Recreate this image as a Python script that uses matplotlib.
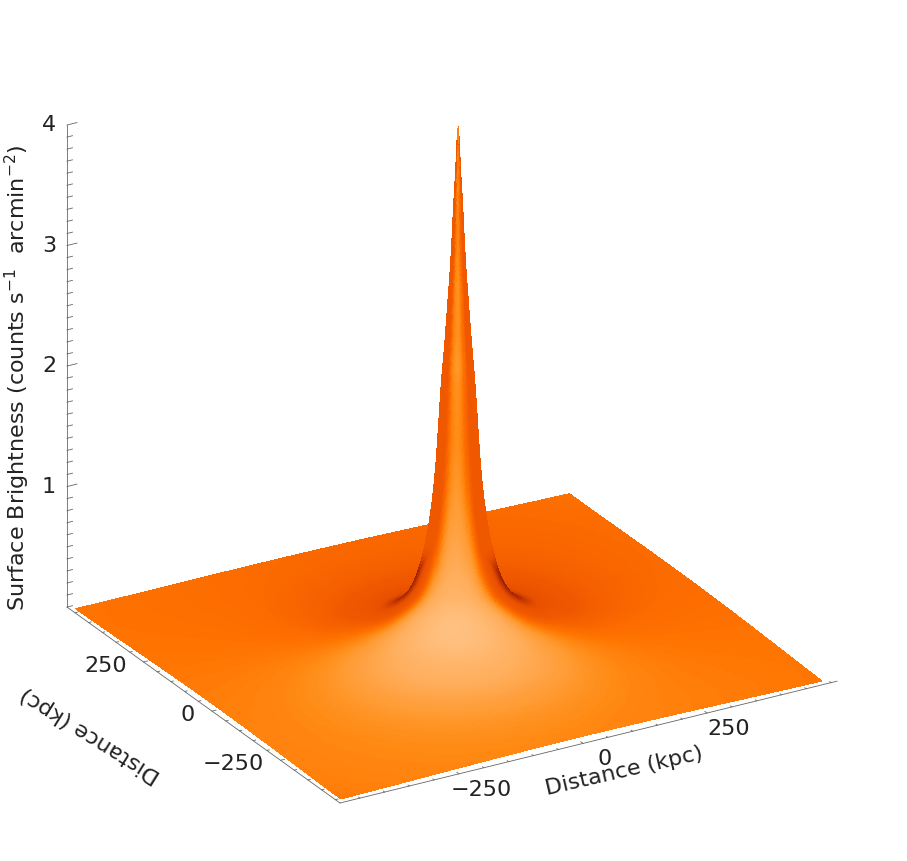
import numpy as np
import matplotlib
matplotlib.use('Agg')
from matplotlib import pyplot as plt
from matplotlib.colors import LinearSegmentedColormap
from mpl_toolkits.mplot3d import proj3d

# Radial profile of the peak
radius_kpc = [0, 2, 8, 19, 31, 41, 55, 86, 128, 200, 300, 400, 500, 600, 700]
brightness = [4.36, 4.26, 3.72, 2.86, 2.2, 1.45, 0.97, 0.5, 0.31, 0.18, 0.1, 0.065, 0.045, 0.03, 0.02]

# Axis ranges and ticks
x_range = [-490, 512]
y_range = [-467, 529]
z_range = [0, 4]
surf_x = [-486, 484]
surf_y = [-463, 505]
major_ticks = [-250, 0, 250]
minor_ticks = [-450, -400, -350, -300, -200, -150, -100, -50, 50, 100, 150, 200, 300, 350, 400, 450, 500]
z_major = [1, 2, 3, 4]
z_minor = [0.1, 0.2, 0.3, 0.4, 0.5, 0.6, 0.7, 0.8, 0.9, 1.1, 1.2, 1.3, 1.4, 1.5, 1.6, 1.7, 1.8, 1.9,
           2.1, 2.2, 2.3, 2.4, 2.5, 2.6, 2.7, 2.8, 2.9, 3.1, 3.2, 3.3, 3.4, 3.5, 3.6, 3.7, 3.8, 3.9]

# Shade colours against the light level of a facet
shade_levels = [0.0, 0.3, 0.5, 0.62, 0.67, 0.707, 0.74, 0.77, 0.8, 0.85, 1.0]
shade_colors = ['#8c1900', '#a52300', '#e85000', '#f05800', '#f86400', '#ff7300', '#ff8a14', '#ff9a30',
                '#ffa244', '#ffae5c', '#ffc080']

W, H = 907, 861
ELEV, AZIM = 24.8, -120.3
BOX = (575.6, 541, 531)

plt.rcParams['font.family'] = ['DejaVu Sans']
plt.rcParams['mathtext.default'] = 'regular'

fig = plt.figure(figsize=(W / 100, H / 100), dpi=100)
ax = fig.add_axes([0, 0, 1, 1], projection='3d', proj_type='ortho')
ax.view_init(elev=ELEV, azim=AZIM)
ax.set_box_aspect(BOX)
ax.set_xlim(x_range)
ax.set_ylim(y_range)
ax.set_zlim(z_range)
ax.set_axis_off()
ax.computed_zorder = False


# Pixel position of a data point
def pixel_of(x, y, z):
    px, py, _ = proj3d.proj_transform(x, y, z, ax.get_proj())
    return ax.transData.transform((px, py))


# Size and place the axes so the front axis runs from (340,803) to (837,681)
fig.canvas.draw()
left = pixel_of(x_range[0], y_range[0], 0)
right = pixel_of(x_range[1], y_range[0], 0)
side = H * 497 / (right[0] - left[0])
ax.set_position([0, 0, side / W, side / H])
fig.canvas.draw()
left = pixel_of(x_range[0], y_range[0], 0)
ax.set_position([(340 - left[0]) / W, (H - 803 - left[1]) / H, side / W, side / H])

# Fine radial table from the profile, smoothed in log space
u_points = np.log(np.array(radius_kpc) + 5.0)
u_fine = np.linspace(u_points[0], u_points[-1], 800)
log_fine = np.interp(u_fine, u_points, np.log(brightness))
kernel = np.ones(41) / 41
log_smooth = np.convolve(np.pad(log_fine, 20, mode='edge'), kernel, mode='valid')
r_fine = np.exp(u_fine) - 5.0
z_fine = np.exp(log_smooth)
z_fine = z_fine * brightness[0] / z_fine[0]
slope_fine = np.gradient(z_fine, r_fine)

# Grid packed around the peak
t = np.linspace(-1, 1, 281)
base = np.sinh(3 * t) / np.sinh(3)
xs = np.where(base < 0, -base * surf_x[0], base * surf_x[1])
ys = np.where(base < 0, -base * surf_y[0], base * surf_y[1])
X, Y = np.meshgrid(xs, ys)
R = np.hypot(X, Y)
Z = np.interp(R, r_fine, z_fine)

# Light level from the normals, in box units
slope = np.interp(R, r_fine, slope_fine)
safe_r = np.where(R > 0, R, 1)
kx = (BOX[2] / (z_range[1] - z_range[0])) / (BOX[0] / (x_range[1] - x_range[0]))
ky = (BOX[2] / (z_range[1] - z_range[0])) / (BOX[1] / (y_range[1] - y_range[0]))
nx = -slope * X / safe_r * kx
ny = -slope * Y / safe_r * ky
norm = np.sqrt(nx ** 2 + ny ** 2 + 1)
light_el = np.radians(45)
light_az = np.radians(AZIM)
light = (nx * np.cos(light_el) * np.cos(light_az) + ny * np.cos(light_el) * np.sin(light_az)
         + np.sin(light_el)) / norm
# The steep walls of the peak stay orange, only the foot goes dark
steep = np.hypot(nx, ny)
light = np.maximum(light, 0.62 * np.clip((steep - 1.5) / 4, 0, 1))
cmap = LinearSegmentedColormap.from_list('lamp', list(zip(shade_levels, shade_colors)))

# The far corner of the reference sits off a true parallelogram
u = (X - surf_x[0]) / (surf_x[1] - surf_x[0])
v = (Y - surf_y[0]) / (surf_y[1] - surf_y[0])
ax.plot_surface(X + 13 * u * v, Y - 23 * u * v, Z, facecolors=cmap(np.clip(light, 0, 1)),
                rstride=1, cstride=1, shade=False, linewidth=0, antialiased=False, zorder=1)

# Axis lines
axis_kw = dict(color='#666666', lw=0.6, zorder=3)
ax.plot(x_range, [y_range[0], y_range[0]], [0, 0], **axis_kw)
ax.plot([x_range[0], x_range[0]], y_range, [0, 0], **axis_kw)
ax.plot([x_range[0], x_range[0]], [y_range[1], y_range[1]], z_range, **axis_kw)

# Ticks on the floor axes
for tick in major_ticks + minor_ticks:
    length = 8 if tick in major_ticks else 5
    ax.plot([tick, tick], [y_range[0], y_range[0] + length], [0, 0], **axis_kw)
    ax.plot([x_range[0], x_range[0] + length], [tick, tick], [0, 0], **axis_kw)

# Ticks on the height axis
for tick in [0] + z_major + z_minor:
    length = 20 if tick in z_major else 11
    ax.plot([x_range[0], x_range[0] + length], [y_range[1], y_range[1]], [tick, tick], **axis_kw)

# Tick labels
text_color = '#222222'
for tick in major_ticks:
    text = str(tick).replace('-', '\u2212')
    ax.text(tick, y_range[0] - 80, 0, text, fontsize=16, rotation=14, color=text_color,
            ha='center', va='center', rotation_mode='anchor')
    ax.text(x_range[0] - 34, tick, 0, text, fontsize=16, rotation=14, color=text_color,
            ha='right', va='center', rotation_mode='anchor')
for tick in z_major:
    ax.text(x_range[0] - 22, y_range[1], tick + 0.02, str(tick), fontsize=16, color=text_color,
            ha='right', va='center')

# Axis titles
fig.text(17 / W, 1 - 378 / H, 'Surface Brightness (counts s$^{-1}$  arcmin$^{-2}$)', color=text_color,
         fontsize=16, rotation=90, ha='center', va='center')
fig.text(624 / W, 1 - 771 / H, 'Distance (kpc)', fontsize=16, rotation=13, color=text_color,
         ha='center', va='center', rotation_mode='anchor')
fig.text(90 / W, 1 - 735 / H, 'Distance (kpc)', fontsize=16, rotation=148, color=text_color,
         ha='center', va='center', rotation_mode='anchor')

fig.savefig('out.png', dpi=100)
